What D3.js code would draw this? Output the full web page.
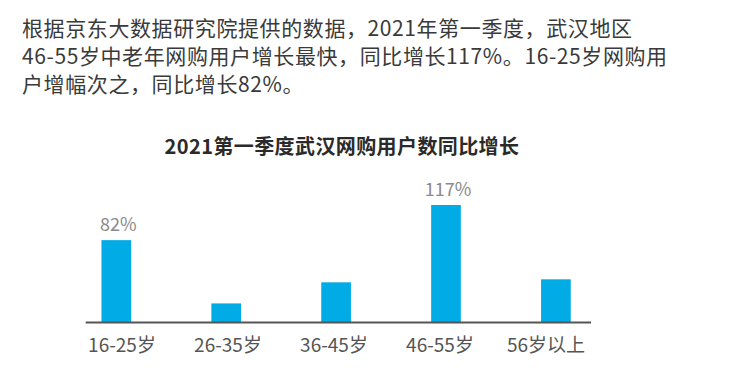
<!DOCTYPE html>
<html>
<head>
<meta charset="utf-8">
<script src="https://cdn.jsdelivr.net/npm/d3@7"></script>
<style>
  html, body { margin: 0; padding: 0; background: #fff; }
  svg { display: block; font-family: "Noto Sans CJK SC", "Noto Sans", sans-serif; }
</style>
</head>
<body>
<svg id="chart" width="741" height="378"></svg>
<script>
"use strict";

var introLines = [
  "根据京东大数据研究院提供的数据，2021年第一季度，武汉地区",
  "46-55岁中老年网购用户增长最快，同比增长117%。16-25岁网购用",
  "户增幅次之，同比增长82%。"
];
var title = "2021第一季度武汉网购用户数同比增长";
var ageGroups = ["16-25岁", "26-35岁", "36-45岁", "46-55岁", "56岁以上"];
var growth = [82, 19, 40, 117, 43];
var shownLabels = ["82%", "", "", "117%", ""];

var svg = d3.select("#chart");

// intro paragraph
svg.append("g").selectAll("text")
  .data(introLines)
  .enter().append("text")
    .attr("x", 22)
    .attr("y", function(d, i) { return 36 + i * 28; })
    .attr("fill", "#3a3a3a")
    .style("font-size", "21px")
    .style("letter-spacing", "0.6px")
    .text(function(d) { return d; });

svg.append("text")
  .attr("x", 342)
  .attr("y", 154)
  .attr("text-anchor", "middle")
  .attr("fill", "#2a2a2a")
  .style("font-size", "20px")
  .style("font-weight", "bold")
  .style("letter-spacing", "0.4px")
  .text(title);

var baseline = 322.5;

var x = d3.scaleBand()
  .domain(ageGroups)
  .range([61.35, 610.85])
  .paddingInner(0.73)
  .paddingOuter(0.365);

var y = d3.scaleLinear()
  .domain([0, 117])
  .range([baseline, 205]);

// label positions are a bit off the bar centres in the original
var labelX = d3.scalePoint()
  .domain(ageGroups)
  .range([122, 546]);

var rows = ageGroups.map(function(g, i) {
  return { group: g, value: growth[i], label: shownLabels[i] };
});

svg.append("g").selectAll("rect")
  .data(rows)
  .enter().append("rect")
    .attr("x", function(d) { return x(d.group); })
    .attr("y", function(d) { return y(d.value); })
    .attr("width", x.bandwidth())
    .attr("height", function(d) { return baseline - y(d.value); })
    .attr("fill", "#00abe6");

svg.append("line")
  .attr("x1", 85.7)
  .attr("x2", 591)
  .attr("y1", baseline)
  .attr("y2", baseline)
  .attr("stroke", "#555")
  .attr("stroke-width", 2);

svg.append("g").selectAll("text")
  .data(rows.filter(function(d) { return d.label; }))
  .enter().append("text")
    .attr("x", function(d) { return x(d.group) + x.bandwidth() / 2 + 2; })
    .attr("y", function(d) { return y(d.value) - 9; })
    .attr("text-anchor", "middle")
    .attr("fill", "#8a8a8a")
    .style("font-size", "18px")
    .text(function(d) { return d.label; });

svg.append("g").selectAll("text")
  .data(rows)
  .enter().append("text")
    .attr("x", function(d) { return labelX(d.group); })
    .attr("y", 352)
    .attr("text-anchor", "middle")
    .attr("fill", "#555")
    .style("font-size", "19px")
    .text(function(d) { return d.group; });
</script>
</body>
</html>
